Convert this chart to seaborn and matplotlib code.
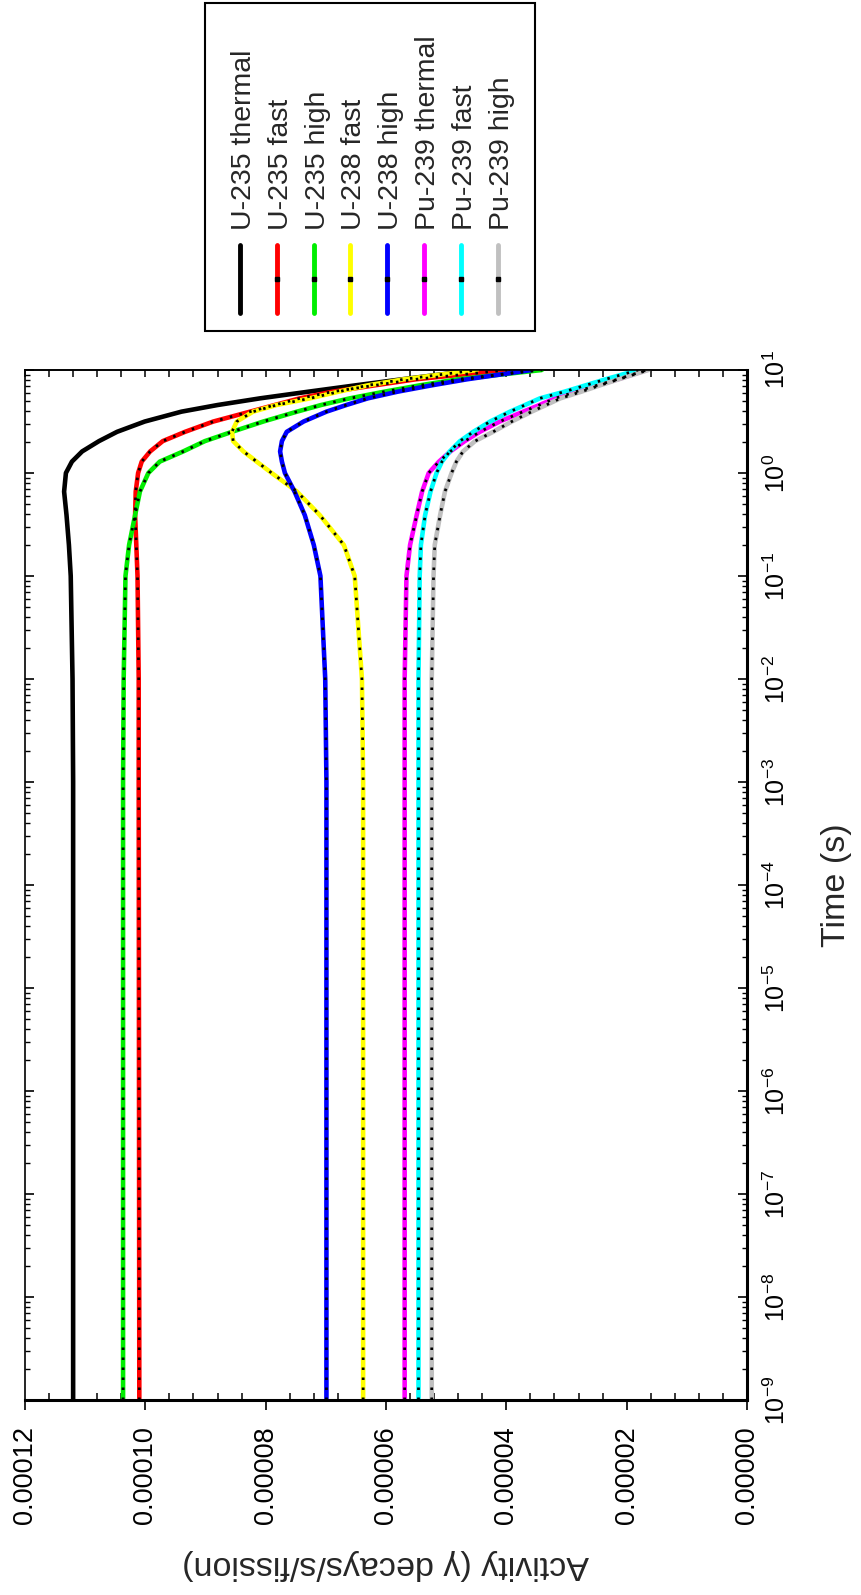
import matplotlib
matplotlib.use("Agg")
import matplotlib.pyplot as plt
import seaborn as sns
import numpy as np
import pandas as pd
from matplotlib.ticker import (MultipleLocator, FuncFormatter, LogLocator,
                               LogFormatterMathtext, NullFormatter)
from matplotlib.patches import Rectangle

# ---------------- data (activity in units of 1e-5 decays/s/fission) -------------
times = [1e-9, 1e-3, 1e-2, 0.1, 0.2, 0.39, 0.66, 1.0, 1.29, 1.62, 2.04,
         2.51, 3.16, 3.94, 4.57, 5.31, 6.17, 7.08, 8.13, 10.0]

u235_thermal = [11.20, 11.20, 11.21, 11.24, 11.27, 11.31, 11.35, 11.32, 11.22, 11.05,
                10.77, 10.47, 10.01, 9.40, 8.80, 8.09, 7.28, 6.52, 5.73, 4.49]
u235_fast = [10.10, 10.11, 10.11, 10.13, 10.15, 10.17, 10.16, 10.12, 10.06, 9.92,
             9.71, 9.34, 8.87, 8.26, 7.85, 7.43, 6.88, 6.20, 5.50, 3.99]
u235_high = [10.37, 10.37, 10.36, 10.33, 10.27, 10.17, 10.09, 9.95, 9.76, 9.37,
             9.01, 8.56, 8.04, 7.48, 7.08, 6.60, 6.02, 5.45, 4.80, 3.41]
u238_fast = [6.38, 6.38, 6.40, 6.52, 6.70, 7.10, 7.48, 7.90, 8.15, 8.37,
             8.54, 8.56, 8.48, 8.21, 7.82, 7.26, 6.78, 6.31, 5.70, 4.49]
u238_high = [6.99, 6.99, 7.01, 7.09, 7.20, 7.35, 7.52, 7.68, 7.73, 7.76,
             7.73, 7.65, 7.37, 6.99, 6.66, 6.30, 5.80, 5.25, 4.65, 3.58]
pu239_thermal = [5.69, 5.69, 5.69, 5.66, 5.60, 5.49, 5.40, 5.29, 5.12, 4.93,
                 4.69, 4.44, 4.11, 3.72, 3.45, 3.19, 2.84, 2.50, 2.15, 1.67]
pu239_fast = [5.46, 5.46, 5.46, 5.44, 5.42, 5.35, 5.26, 5.16, 5.07, 4.94,
              4.77, 4.55, 4.27, 3.94, 3.69, 3.44, 3.03, 2.69, 2.35, 1.81]
pu239_high = [5.24, 5.24, 5.24, 5.21, 5.19, 5.10, 5.02, 4.91, 4.83, 4.72,
              4.52, 4.22, 3.91, 3.58, 3.34, 3.10, 2.75, 2.45, 2.13, 1.64]
activity_unit = 1e-5

labels = ["U-235 thermal", "U-235 fast", "U-235 high", "U-238 fast",
          "U-238 high", "Pu-239 thermal", "Pu-239 fast", "Pu-239 high"]
colors = ["#000000", "#ff0000", "#00ee00", "#ffff00", "#0000ff",
          "#ff00ff", "#00ffff", "#c0c0c0"]
series = [u235_thermal, u235_fast, u235_high, u238_fast, u238_high,
          pu239_thermal, pu239_fast, pu239_high]

x_ticks_step = 2e-5
x_minor_step = 4e-6

# ---------------- style -------------
sns.set_style("ticks")
plt.rcParams["font.family"] = ["Liberation Sans", "DejaVu Sans"]
plt.rcParams["mathtext.fontset"] = "custom"
plt.rcParams["mathtext.rm"] = "Liberation Sans"
plt.rcParams["mathtext.it"] = "Liberation Sans:italic"
plt.rcParams["mathtext.default"] = "regular"
plt.rcParams["axes.edgecolor"] = "black"
plt.rcParams["xtick.color"] = "black"
plt.rcParams["ytick.color"] = "black"

rows = []
for lab, vals in zip(labels, series):
    for t, v in zip(times, vals):
        rows.append({"series": lab, "time": t, "activity": v * activity_unit})
df = pd.DataFrame(rows)

W, H = 861, 1595
fig = plt.figure(figsize=(W / 100, H / 100), dpi=100)
ax = fig.add_axes([25 / W, 1 - 1400 / H, 722 / W, 1030 / H])
ax.set_yscale("log")

sns.lineplot(data=df, x="activity", y="time", hue="series", hue_order=labels,
             palette=dict(zip(labels, colors)), sort=False, estimator=None,
             legend=False, linewidth=3.3, ax=ax)
dotted = df[df["series"] != labels[0]]
sns.lineplot(data=dotted, x="activity", y="time", units="series",
             estimator=None, sort=False, color="black", linewidth=2.0,
             linestyle=(0, (0.9, 2.7)), legend=False, ax=ax)

ax.set_xlim(0.00012, 0)
ax.set_ylim(1e-9, 10)

# x (activity) axis
ax.xaxis.set_major_locator(MultipleLocator(x_ticks_step))
ax.xaxis.set_minor_locator(MultipleLocator(x_minor_step))
ax.xaxis.set_major_formatter(FuncFormatter(lambda v, p: f"{abs(v):.5f}"))
ax.tick_params(axis="x", which="major", direction="out", length=7, width=1.2,
               bottom=True, top=False, labelsize=19.5, labelrotation=90, pad=12)
ax.tick_params(axis="x", which="minor", direction="in", length=4.7, width=1.1,
               bottom=True, top=False)
sec = ax.secondary_xaxis("top")
sec.xaxis.set_major_locator(MultipleLocator(x_ticks_step))
sec.xaxis.set_minor_locator(MultipleLocator(x_minor_step))
sec.xaxis.set_major_formatter(NullFormatter())
sec.tick_params(which="both", direction="in", length=5, width=1.1,
                labeltop=False)
sec.spines["top"].set_linewidth(1.2)

# y (time) axis
ax.yaxis.set_major_locator(LogLocator(base=10, numticks=30))
ax.yaxis.set_minor_locator(LogLocator(base=10, subs=np.arange(2, 10) * 1.0,
                                      numticks=30))
ax.yaxis.set_minor_formatter(NullFormatter())
ax.yaxis.set_major_formatter(LogFormatterMathtext())
ax.tick_params(axis="y", which="major", direction="in", length=6.5, width=1.2,
               left=True, right=True, labelleft=False, labelright=True,
               labelsize=18, labelrotation=90, pad=12)
ax.tick_params(axis="y", which="minor", direction="in", length=3.6, width=1.0,
               left=True, right=True)
for t in ax.yaxis.get_major_ticks():
    t.label2.set_va("center")

for s in ["left", "top"]:
    ax.spines[s].set_linewidth(1.2)
for s in ["bottom", "right"]:
    ax.spines[s].set_linewidth(2.2)

ax.yaxis.set_label_position("right")
ax.set_ylabel("Time (s)", fontsize=24.5, rotation=90, labelpad=22)
ax.set_xlabel("Activity (\u03b3 decays/s/fission)", fontsize=24.5,
              rotation=180, labelpad=18)

# ---------------- legend (drawn rotated like the chart) -------------
lax = fig.add_axes([0, 0, 1, 1])
lax.set_xlim(0, W)
lax.set_ylim(H, 0)
lax.axis("off")
lax.add_patch(Rectangle((205, 3), 330, 328, fill=False, lw=1.5, ec="black"))
for i, (lab, col) in enumerate(zip(labels, colors)):
    x = 240 + i * 36.8
    lax.plot([x, x], [245, 313], color=col, lw=3.5, solid_capstyle="round")
    if i > 0:
        lax.plot([x], [279], "s", color="black", ms=2.2)
    lax.text(x + 11, 230, lab, rotation=90, rotation_mode="anchor",
             ha="left", va="baseline", fontsize=20.5)

fig.savefig("out.png", dpi=100)
